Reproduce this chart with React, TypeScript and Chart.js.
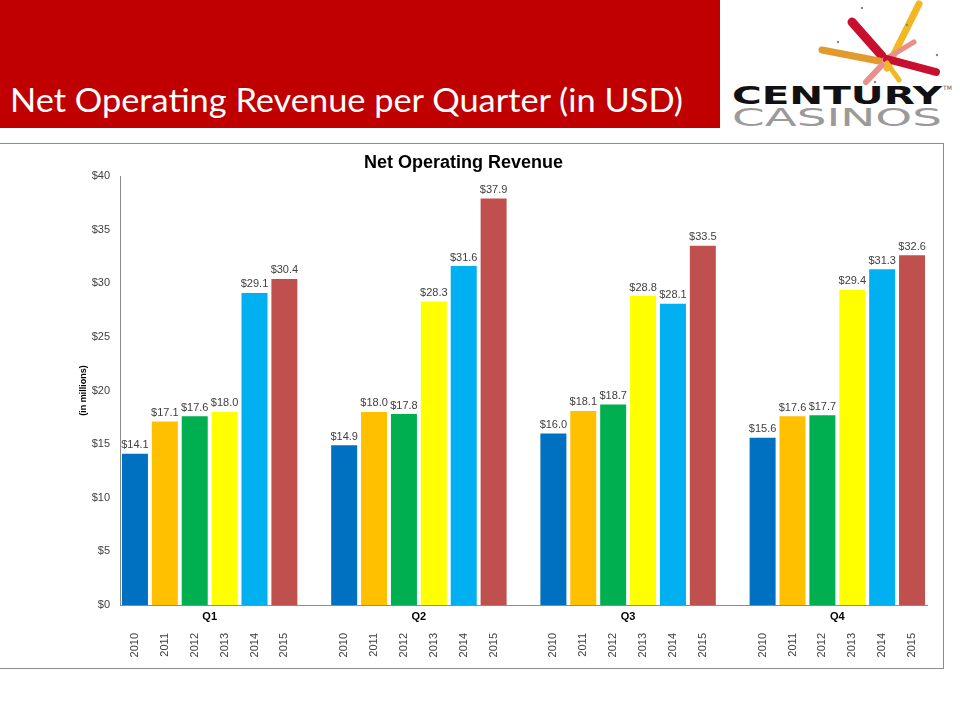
import React, { useEffect, useRef } from "react";
import { Chart, registerables } from "chart.js";

Chart.register(...registerables);

// ---------- data ----------
const quarters = ["Q1", "Q2", "Q3", "Q4"];
const years = ["2010", "2011", "2012", "2013", "2014", "2015"];
const q1Values = [14.1, 17.1, 17.6, 18.0, 29.1, 30.4];
const q2Values = [14.9, 18.0, 17.8, 28.3, 31.6, 37.9];
const q3Values = [16.0, 18.1, 18.7, 28.8, 28.1, 33.5];
const q4Values = [15.6, 17.6, 17.7, 29.4, 31.3, 32.6];
const yearColors = ["#0070C0", "#FFC000", "#00B050", "#FFFF00", "#00B0F0", "#C0504D"];
const yTickValues = [0, 5, 10, 15, 20, 25, 30, 35, 40];
const chartTitle = "Net Operating Revenue";
const yAxisTitle = "(in millions)";
const slideTitle = "Net Operating Revenue per Quarter (in USD)";

const quarterValues = [q1Values, q2Values, q3Values, q4Values];

// build slot table: 6 bars per quarter, one empty slot between quarters
const slotLabels: string[] = [];
const slotValues: (number | null)[] = [];
const slotColors: string[] = [];
const quarterSlots: number[][] = [];
quarterValues.forEach((vals, qi) => {
  if (qi > 0) {
    slotLabels.push("");
    slotValues.push(null);
    slotColors.push("rgba(0,0,0,0)");
  }
  const idx: number[] = [];
  vals.forEach((v, yi) => {
    idx.push(slotLabels.length);
    slotLabels.push(years[yi]);
    slotValues.push(v);
    slotColors.push(yearColors[yi]);
  });
  quarterSlots.push(idx);
});

const FONT = 'Arial, "Liberation Sans", sans-serif';

const valueLabelPlugin = {
  id: "valueLabels",
  afterDatasetsDraw(chart: any) {
    const ctx = chart.ctx;
    const meta = chart.getDatasetMeta(0);
    ctx.save();
    ctx.font = `11px ${FONT}`;
    ctx.fillStyle = "#404040";
    ctx.textAlign = "center";
    ctx.textBaseline = "bottom";
    meta.data.forEach((bar: any, i: number) => {
      const v = slotValues[i];
      if (v == null) return;
      ctx.fillText("$" + v.toFixed(1), bar.x, bar.y - 3);
    });
    ctx.restore();
  },
};

const quarterLabelPlugin = {
  id: "quarterLabels",
  afterDraw(chart: any) {
    const ctx = chart.ctx;
    const xs = chart.scales.x;
    ctx.save();
    ctx.font = `bold 11px ${FONT}`;
    ctx.fillStyle = "#000";
    ctx.textAlign = "center";
    ctx.textBaseline = "middle";
    quarterSlots.forEach((idx, qi) => {
      const x0 = xs.getPixelForValue(idx[0]);
      const x1 = xs.getPixelForValue(idx[idx.length - 1]);
      ctx.fillText(quarters[qi], (x0 + x1) / 2, chart.chartArea.bottom + 12);
    });
    ctx.restore();
  },
};

function RevenueChart() {
  const ref = useRef<HTMLCanvasElement | null>(null);
  useEffect(() => {
    if (!ref.current) return;
    const chart = new Chart(ref.current, {
      type: "bar",
      data: {
        labels: slotLabels,
        datasets: [
          {
            data: slotValues as any,
            backgroundColor: slotColors,
            borderWidth: 0,
            categoryPercentage: 1,
            barPercentage: 0.87,
          },
        ],
      },
      options: {
        responsive: false,
        animation: false,
        devicePixelRatio: 1,
        layout: { padding: { left: 0, right: 33, top: 152.2, bottom: 55 } },
        plugins: {
          legend: { display: false },
          tooltip: { enabled: false },
          title: {
            display: true,
            text: chartTitle,
            color: "#000",
            font: { family: FONT, size: 18, weight: "bold" },
            padding: { top: 0, bottom: 2.2 },
          },
        },
        scales: {
          x: {
            grid: { display: false, drawTicks: false },
            border: { display: true, color: "#8c8c8c", width: 1 },
            ticks: {
              autoSkip: false,
              minRotation: 90,
              maxRotation: 90,
              padding: 28,
              color: "#404040",
              font: { family: FONT, size: 11 },
            },
            afterFit: (s: any) => {
              s.height = 60;
            },
          },
          y: {
            min: 0,
            max: 40,
            afterBuildTicks: (s: any) => {
              s.ticks = yTickValues.map((v) => ({ value: v }));
            },
            ticks: {
              padding: 10,
              color: "#404040",
              font: { family: FONT, size: 11 },
              callback: (v: any) => "$" + v,
            },
            grid: { display: false, drawTicks: false },
            border: { display: true, color: "#8c8c8c", width: 1 },
            title: {
              display: true,
              text: yAxisTitle,
              color: "#000",
              font: { family: FONT, size: 9, weight: "bold" },
              padding: { top: 78, bottom: 0 },
            },
            afterFit: (s: any) => {
              s.width = 120;
            },
          },
        },
      },
      plugins: [valueLabelPlugin, quarterLabelPlugin],
    });
    return () => chart.destroy();
  }, []);
  return (
    <canvas
      ref={ref}
      width={960}
      height={720}
      style={{ position: "absolute", left: 0, top: 0, width: 960, height: 720 }}
    />
  );
}

function Header() {
  return (
    <svg width={960} height={140} style={{ position: "absolute", left: 0, top: 0 }}>
      <rect x={0} y={0} width={720} height={128} fill="#C00000" />
      <text
        x={10}
        y={112}
        fill="#ffffff"
        fontFamily="Lato, 'Open Sans', sans-serif"
        fontSize={33}
        textLength={673}
        lengthAdjust="spacingAndGlyphs"
      >
        {slideTitle}
      </text>
      {/* logo starburst */}
      <g strokeLinecap="round" fill="none">
        <line x1={887} y1={68} x2={919} y2={4} stroke="#F2B824" strokeWidth={7} />
        <line x1={852} y1={22} x2={882} y2={56} stroke="#C8102E" strokeWidth={9} />
        <line x1={822} y1={50} x2={879} y2={61} stroke="#E39A2C" strokeWidth={7} />
        <line x1={884} y1={60} x2={914} y2={42} stroke="#E8908A" strokeWidth={5} />
        <line x1={887} y1={59} x2={936} y2={72} stroke="#C8102E" strokeWidth={8} />
        <line x1={882} y1={65} x2={866} y2={82} stroke="#E8908A" strokeWidth={6} />
        <line x1={887} y1={63} x2={899} y2={80} stroke="#F2B824" strokeWidth={5} />
      </g>
      <g fill="#888">
        <circle cx={862} cy={8} r={1.2} />
        <circle cx={838} cy={42} r={1.2} />
        <circle cx={937} cy={55} r={1.2} />
        <circle cx={907} cy={25} r={1.2} />
        <circle cx={875} cy={82} r={1.2} />
      </g>
      <text
        x={732}
        y={104}
        fill="#111"
        fontFamily="'DejaVu Sans', sans-serif"
        fontWeight="bold"
        fontSize={25}
        textLength={210}
        lengthAdjust="spacingAndGlyphs"
      >
        CENTURY
      </text>
      <text x={943} y={90} fill="#555" fontFamily="'DejaVu Sans', sans-serif" fontSize={6}>
        TM
      </text>
      <text
        x={732}
        y={126}
        fill="#9a9a9a"
        fontFamily="'DejaVu Sans', sans-serif"
        fontSize={25}
        textLength={210}
        lengthAdjust="spacingAndGlyphs"
      >
        CASINOS
      </text>
    </svg>
  );
}

export default function App() {
  return (
    <div
      style={{
        position: "fixed",
        left: 0,
        top: 0,
        width: 960,
        height: 720,
        background: "#fff",
        overflow: "hidden",
      }}
    >
      <Header />
      <div
        style={{
          position: "absolute",
          left: -2,
          top: 143,
          width: 946,
          height: 526,
          borderTop: "1.5px solid #8c8c8c",
          borderRight: "1.5px solid #8c8c8c",
          borderBottom: "1.5px solid #8c8c8c",
          boxSizing: "border-box",
        }}
      />
      <RevenueChart />
    </div>
  );
}
